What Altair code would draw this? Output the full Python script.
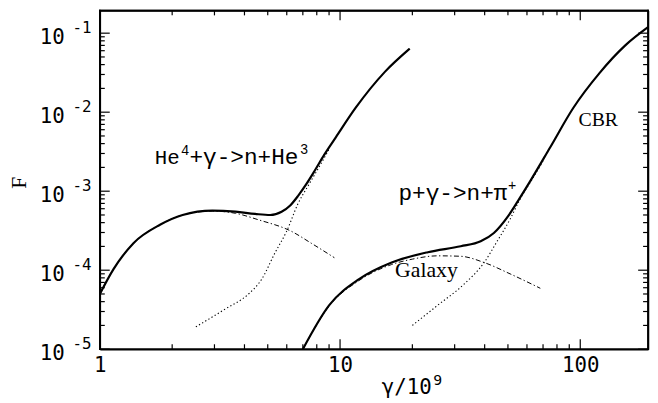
import math
import altair as alt
import pandas as pd

# ---------------- data ----------------
he_total_x = [1.0, 1.14, 1.38, 1.78, 2.21, 2.94, 3.67, 4.43, 5.12, 5.71, 6.2, 6.7, 7.2, 7.83, 8.6, 9.6, 11.6, 15.4, 19.5]
he_total_y = [5.0e-5, 1.03e-4, 2.2e-4, 3.76e-4, 5.0e-4, 5.67e-4, 5.5e-4, 5.16e-4, 5.0e-4, 5.5e-4, 6.6e-4, 8.8e-4, 1.2e-3, 1.8e-3, 2.9e-3, 4.8e-3, 1.13e-2, 3.26e-2, 6.37e-2]

he_gal_x = [1.0, 1.14, 1.38, 1.78, 2.21, 2.94, 3.67, 4.58, 6.28, 7.58, 9.47]
he_gal_y = [5.0e-5, 1.03e-4, 2.2e-4, 3.76e-4, 5.0e-4, 5.6e-4, 5.25e-4, 4.34e-4, 3.1e-4, 2.2e-4, 1.44e-4]

he_cbr_x = [2.51, 3.34, 4.16, 4.72, 5.36, 5.99, 6.69, 7.4, 8.2, 9.0]
he_cbr_y = [1.92e-5, 3.25e-5, 5.0e-5, 7.7e-5, 1.66e-4, 3.1e-4, 7.0e-4, 1.2e-3, 2.05e-3, 3.4e-3]

p_total_x = [7.0, 9.0, 12.0, 16.4, 23.2, 31.8, 38.5, 43.7, 50.0, 55.0, 62.0, 75.0, 93.5, 120.0, 154.0, 191.5]
p_total_y = [1.0e-5, 3.58e-5, 7.7e-5, 1.25e-4, 1.69e-4, 2.01e-4, 2.32e-4, 2.96e-4, 4.8e-4, 7.5e-4, 1.35e-3, 3.6e-3, 1.13e-2, 3.1e-2, 7.0e-2, 0.119]

p_gal_x = [7.0, 9.0, 12.0, 16.4, 20.0, 25.5, 31.8, 39.8, 51.4, 68.2]
p_gal_y = [1.0e-5, 3.5e-5, 7.4e-5, 1.18e-4, 1.38e-4, 1.52e-4, 1.5e-4, 1.25e-4, 8.9e-5, 5.9e-5]

p_cbr_x = [20.0, 25.5, 32.9, 39.8, 45.0, 51.0, 56.0, 62.0, 70.0]
p_cbr_y = [2.0e-5, 3.6e-5, 6.7e-5, 1.25e-4, 2.3e-4, 4.4e-4, 7.8e-4, 1.3e-3, 2.4e-3]

x_major = [1, 10, 100]
y_major = [1e-5, 1e-4, 1e-3, 1e-2, 1e-1]

# annotation anchors (data coordinates)
he_label_xy = (1.694, 2.22e-3)
p_label_xy = (17.5, 7.7e-4)
galaxy_xy = (16.95, 8.18e-5)
cbr_xy = (98.3, 6.68e-3)

# ---------------- layout ----------------
W, H = 555, 343
XMIN, XMAX = 1, 191.5
YMIN, YMAX = 1e-5, 0.194
MAJ_LEN, MIN_LEN = 10, 5
TICK_W, FRAME_W = 1.2, 1.5

x_minor = [m * 10 ** k for k in range(0, 3) for m in range(2, 10) if m * 10 ** k <= XMAX]
y_minor = [m * 10.0 ** k for k in range(-5, 0) for m in range(2, 10) if m * 10.0 ** k <= YMAX]

NUMFONT = "DejaVu Sans Mono"
MONO = "Liberation Mono"
SERIF = "Liberation Serif"

xs = alt.Scale(type="log", domain=[XMIN, XMAX], nice=False)
ys = alt.Scale(type="log", domain=[YMIN, YMAX], nice=False)

PX_X = W / math.log10(XMAX / XMIN)
PX_Y = H / math.log10(YMAX / YMIN)

FRAME = dict(domain=True, domainColor="black", domainWidth=1.5)


def df(xv, yv):
    return pd.DataFrame({"x": xv, "y": yv})


ax_bottom_labels = alt.Axis(orient="bottom", values=x_major, labelExpr="format(datum.value, 'd')",
                            ticks=False, tickSize=0, grid=False, **FRAME,
                            labelFont=NUMFONT, labelFontSize=21, labelPadding=6,
                            labelOverlap=False, labelFlush=False, labelColor="black",
                            title="γ/10", titleFont=NUMFONT, titleFontSize=21, titleFontWeight="normal",
                            titleX=285, titleY=45, titleAlign="left", titleBaseline="alphabetic",
                            titleColor="black")
ax_x_sup = alt.Axis(orient="bottom", labels=False, ticks=False, domain=False, grid=False,
                    title="9", titleFont=NUMFONT, titleFontSize=15, titleFontWeight="normal",
                    titleX=337, titleY=36, titleAlign="left", titleBaseline="alphabetic",
                    titleColor="black")
ax_top = alt.Axis(orient="top", labels=False, ticks=False, grid=False, title=None, **FRAME)

ay_labels = alt.Axis(orient="left", values=y_major, labelExpr="'10'", ticks=False, tickSize=0,
                     grid=False, **FRAME, labelFont=NUMFONT, labelFontSize=21,
                     labelPadding=36, labelOffset=4, labelBaseline="middle", labelAlign="right",
                     labelOverlap=False, labelColor="black",
                     title="F", titleFont=SERIF, titleFontSize=22, titleFontWeight="normal",
                     titleAngle=270, titleX=-82, titleY=174, titleAlign="center",
                     titleBaseline="middle", titleColor="black")
ay_exp = alt.Axis(orient="left", values=y_major, labelExpr="'-' + round(-log(datum.value)/LN10)",
                  ticks=False, tickSize=0, domain=False, grid=False, labelFont=NUMFONT,
                  labelFontSize=16, labelPadding=9, labelOffset=-6, labelBaseline="middle",
                  labelAlign="right", labelOverlap=False, labelColor="black", title=None)
ay_right = alt.Axis(orient="right", labels=False, ticks=False, grid=False, title=None, **FRAME)


def curve(xv, yv, xaxis, yaxis, width, dash=None, color="black"):
    kw = dict(interpolate="monotone", color=color, strokeWidth=width, clip=True)
    if dash:
        kw["strokeDash"] = dash
    return alt.Chart(df(xv, yv)).mark_line(**kw).encode(
        x=alt.X("x:Q", scale=xs, axis=xaxis),
        y=alt.Y("y:Q", scale=ys, axis=yaxis),
    )


DOT = [1.3, 2.4]
DASHDOT = [5, 2.5, 1.3, 2.5]

layers = [
    curve(he_total_x, he_total_y, ax_bottom_labels, ay_labels, 2.2),
    curve(he_gal_x, he_gal_y, ax_top, ay_exp, 1.0, DASHDOT),
    curve(he_cbr_x, he_cbr_y, None, ay_right, 1.1, DOT),
    curve(p_total_x, p_total_y, ax_x_sup, None, 2.2),
    curve(p_gal_x, p_gal_y, None, None, 1.0, DASHDOT),
    curve(p_cbr_x, p_cbr_y, None, None, 1.1, DOT),
]

# ---------------- frame and inward ticks as thin filled bars, placed through the scales ----------------
bars = []
hx = 10 ** (TICK_W / 2 / PX_X)
hy = 10 ** (TICK_W / 2 / PX_Y)
for vals, ln in ((x_major, MAJ_LEN), (x_minor, MIN_LEN)):
    fy = 10 ** (ln / PX_Y)
    for v in vals:
        bars.append((v / hx, v * hx, YMIN, YMIN * fy))
        bars.append((v / hx, v * hx, YMAX / fy, YMAX))
for vals, ln in ((y_major, MAJ_LEN), (y_minor, MIN_LEN)):
    fx = 10 ** (ln / PX_X)
    for v in vals:
        bars.append((XMIN, XMIN * fx, v / hy, v * hy))
        bars.append((XMAX / fx, XMAX, v / hy, v * hy))
ex = 10 ** (FRAME_W / 2 / PX_X)
ey = 10 ** (FRAME_W / 2 / PX_Y)
bars += [
    (XMIN / ex, XMAX * ex, YMIN / ey, YMIN * ey),
    (XMIN / ex, XMAX * ex, YMAX / ey, YMAX * ey),
    (XMIN / ex, XMIN * ex, YMIN / ey, YMAX * ey),
    (XMAX / ex, XMAX * ex, YMIN / ey, YMAX * ey),
]
bars_df = pd.DataFrame(bars, columns=["x", "x2", "y", "y2"])
layers.append(
    alt.Chart(bars_df).mark_rect(color="black", strokeWidth=0).encode(
        x=alt.X("x:Q", scale=xs, axis=None), x2="x2:Q",
        y=alt.Y("y:Q", scale=ys, axis=None), y2="y2:Q",
    )
)


def label(xy, text, font, size, dx=0, dy=0):
    d = pd.DataFrame({"x": [xy[0]], "y": [xy[1]], "t": [text]})
    return alt.Chart(d).mark_text(align="left", baseline="alphabetic", font=font, fontSize=size,
                                  dx=dx, dy=dy, color="black").encode(
        x=alt.X("x:Q", scale=xs, axis=None),
        y=alt.Y("y:Q", scale=ys, axis=None),
        text="t:N",
    )


layers += [
    label(he_label_xy, "He", MONO, 21),
    label(he_label_xy, "4", MONO, 14, dx=26.5, dy=-9),
    label(he_label_xy, "+γ->n+He", MONO, 23, dx=35),
    label(he_label_xy, "3", MONO, 14, dx=147, dy=-10),
    label(p_label_xy, "p+γ->n+π", MONO, 23),
    label(p_label_xy, "+", MONO, 14, dx=111, dy=-10),
    label(galaxy_xy, "Galaxy", SERIF, 22),
    label(cbr_xy, "CBR", SERIF, 20),
]

chart = alt.layer(*layers).resolve_axis(x="independent", y="independent").properties(
    width=W, height=H,
    background="white",
    autosize=alt.AutoSizeParams(type="none"),
    padding={"left": 93, "top": 0, "right": 2, "bottom": 52},
).configure_view(stroke="black", strokeWidth=1.5)

chart.save("out.html", embed_options={"renderer": "svg", "actions": False})
